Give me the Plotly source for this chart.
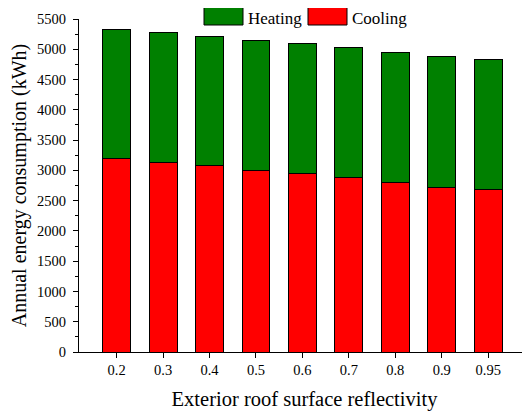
import plotly.graph_objects as go

categories = ["0.2", "0.3", "0.4", "0.5", "0.6", "0.7", "0.8", "0.9", "0.95"]
cooling = [3190, 3135, 3075, 3005, 2945, 2875, 2805, 2725, 2685]
heating = [2140, 2140, 2140, 2148, 2147, 2151, 2150, 2152, 2154]
y_ticks = list(range(0, 5501, 500))

FONT = "Liberation Serif, Times New Roman, serif"

# page has an 8px body margin; figure placed at (8,8)
OFF = 8
W, H = 530 - OFF, 415 - OFF
L, T, B = 79 - OFF, 19 - OFF, 63
PW, PH = W - L, H - T - B

fig = go.Figure()
fig.add_trace(go.Bar(x=categories, y=cooling, name="Cooling", marker=dict(color="#ff0000", line=dict(color="black", width=1)), width=0.6, showlegend=False))
fig.add_trace(go.Bar(x=categories, y=heating, name="Heating", marker=dict(color="#008000", line=dict(color="black", width=1)), width=0.6, showlegend=False))

# custom legend (layout decoration), positions in page pixels
legend_items = [("Heating", "#008000", 204), ("Cooling", "#ff0000", 308)]
for label, color, x0 in legend_items:
    fig.add_shape(type="rect", xref="paper", yref="paper",
                  x0=(x0 - 79) / PW, x1=(x0 + 39 - 79) / PW,
                  y0=(352 - 25) / PH, y1=(352 - 6) / PH,
                  fillcolor=color, line=dict(color="black", width=1))
    fig.add_annotation(text=label, xref="paper", yref="paper",
                       x=(x0 + 43 - 79) / PW, y=(352 - OFF) / PH,
                       xanchor="left", yanchor="top", showarrow=False,
                       borderpad=0,
                       font=dict(family=FONT, size=17, color="black"))

fig.update_layout(
    width=W, height=H,
    margin=dict(l=L, r=0, t=T, b=B, pad=0),
    barmode="stack",
    plot_bgcolor="white", paper_bgcolor="white",
    font=dict(family=FONT, color="black"),
    showlegend=False,
    xaxis=dict(
        type="category", range=[-0.81, 8.9],
        showline=True, linecolor="black", linewidth=1,
        ticks="outside", ticklen=5, tickcolor="black",
        tickfont=dict(family=FONT, size=14.5),
        title=dict(text="Exterior roof surface reflectivity", font=dict(family=FONT, size=20.5), standoff=14),
        showgrid=False, zeroline=False,
    ),
    yaxis=dict(
        range=[0, 5500], tickvals=y_ticks,
        showline=True, linecolor="black", linewidth=1,
        ticks="outside", ticklen=5, tickcolor="black",
        ticklabelstandoff=4,
        minor=dict(ticks="outside", ticklen=3, dtick=250, tickcolor="black", showgrid=False),
        tickfont=dict(family=FONT, size=14.5),
        title=dict(text="Annual energy consumption (kWh)", font=dict(family=FONT, size=20), standoff=6),
        showgrid=False, zeroline=False,
    ),
)

fig.write_html("out.html")
